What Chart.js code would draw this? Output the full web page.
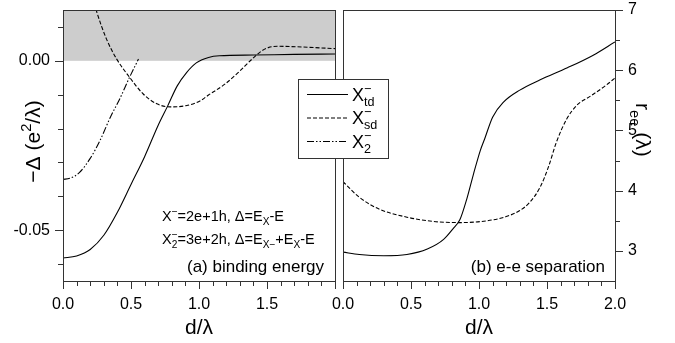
<!DOCTYPE html>
<html>
<head>
<meta charset="utf-8">
<script src="https://cdn.jsdelivr.net/npm/chart.js@4.4.1/dist/chart.umd.min.js"></script>
<style>
  html, body { margin: 0; padding: 0; background: #fff; }
  #wrap { position: relative; width: 675px; height: 343px; overflow: hidden; }
  canvas { position: absolute; top: 0; }
  #leftChart { left: 0; z-index: 2; }
  #rightChart { left: 320px; z-index: 1; }
</style>
</head>
<body>
<div id="wrap">
  <canvas id="rightChart" width="355" height="343"></canvas>
  <canvas id="leftChart" width="400" height="343"></canvas>
</div>
<script>
// ---- values ----
// (a) binding energy  -Delta (e^2/lambda) vs d/lambda
const tdBindD = [0, 0.1, 0.2, 0.3, 0.4, 0.5, 0.6, 0.7, 0.77, 0.84, 0.91, 0.98, 1.07, 1.15, 1.4, 1.7, 2.0];
const tdBindE = [-0.0582, -0.0576, -0.0557, -0.0515, -0.0447, -0.0365, -0.0283, -0.0190, -0.0133, -0.0074, -0.0034, -0.0006, 0.0010, 0.0015, 0.0017, 0.0019, 0.0020];
const sdBindD = [0.23, 0.25, 0.32, 0.395, 0.49, 0.59, 0.69, 0.79, 0.91, 1.01, 1.07, 1.19, 1.29, 1.39, 1.46, 1.51, 1.58, 1.68, 1.8, 2.0];
const sdBindE = [0.0170, 0.0142, 0.0064, 0.0005, -0.0049, -0.0098, -0.0127, -0.0136, -0.0132, -0.0118, -0.0101, -0.0069, -0.0034, 0.0005, 0.0029, 0.0039, 0.0043, 0.0042, 0.0040, 0.0036];
const x2BindD = [0, 0.05, 0.12, 0.2, 0.27, 0.35, 0.42, 0.49, 0.555];
const x2BindE = [-0.0350, -0.0347, -0.0330, -0.0288, -0.0237, -0.0165, -0.0110, -0.0048, 0.0005];
// (b) e-e separation  r_ee (lambda) vs d/lambda
const tdSepD = [0, 0.12, 0.3, 0.47, 0.62, 0.74, 0.81, 0.86, 0.91, 0.96, 1.01, 1.04, 1.1, 1.18, 1.3, 1.45, 1.65, 1.84, 2.0];
const tdSepR = [2.98, 2.94, 2.92, 2.94, 3.03, 3.19, 3.37, 3.52, 3.86, 4.28, 4.67, 4.85, 5.22, 5.47, 5.67, 5.84, 6.04, 6.25, 6.47];
const sdSepD = [0, 0.12, 0.27, 0.47, 0.66, 0.86, 1.06, 1.2, 1.3, 1.375, 1.45, 1.51, 1.57, 1.645, 1.72, 1.82, 1.94, 2.0];
const sdSepR = [4.15, 3.89, 3.69, 3.56, 3.49, 3.47, 3.50, 3.57, 3.67, 3.81, 4.06, 4.39, 4.81, 5.19, 5.42, 5.57, 5.76, 5.87];
// shaded (unbound) band of panel (a)
const unboundBand = [0, 0.015];

// ---- axes ----
const dRange = [0, 2];
const bindRange = [-0.065, 0.015];
const sepRange = [2.5, 7];
const dTicks = [0, 0.1, 0.2, 0.3, 0.4, 0.5, 0.6, 0.7, 0.8, 0.9, 1.0, 1.1, 1.2, 1.3, 1.4, 1.5, 1.6, 1.7, 1.8, 1.9, 2.0];
const dMajor = [0, 0.5, 1.0, 1.5, 2.0];
const dLabelsLeft = [0, 0.5, 1.0, 1.5];   // 2.0 sits under panel (b)
const dLabelsRight = [0, 0.5, 1.0, 1.5, 2.0];
const bindTicks = [-0.06, -0.05, -0.04, -0.03, -0.02, -0.01, 0, 0.01];
const bindLabels = [-0.05, 0];
const sepTicks = [3, 3.5, 4, 4.5, 5, 5.5, 6, 6.5, 7];
const sepLabels = [3, 4, 5, 6, 7];

const FONT = "'Liberation Sans', Arial, Helvetica, sans-serif";
const INK = "#000";
const AXIS = "#333";
const dashes = { td: [], sd: [4, 2], x2: [7, 2, 1.5, 2, 1.5, 2] };

Chart.defaults.font.family = FONT;
Chart.defaults.color = INK;

const pts = (xs, ys) => xs.map((x, i) => ({ x: x, y: ys[i] }));
const has = (arr, v) => arr.some(m => Math.abs(m - v) < 1e-9);

function line(label, data, dash) {
  return {
    label: label, data: data, borderColor: INK, borderWidth: 1.1, borderDash: dash,
    pointRadius: 0, fill: false, cubicInterpolationMode: "monotone"
  };
}

// text with sub/superscripts: strings, or {sub, sup}
function richWidth(ctx, parts, size) {
  let w = 0;
  parts.forEach(p => {
    if (typeof p === "string") { ctx.font = size + "px " + FONT; w += ctx.measureText(p).width; }
    else {
      ctx.font = (size * 0.7) + "px " + FONT;
      w += Math.max(p.sub ? ctx.measureText(p.sub).width : 0, p.sup ? ctx.measureText(p.sup).width : 0);
    }
  });
  return w;
}
function drawRich(ctx, parts, x, y, size, align) {
  const w = richWidth(ctx, parts, size);
  let cx = align === "right" ? x - w : align === "center" ? x - w / 2 : x;
  ctx.textAlign = "left";
  ctx.textBaseline = "alphabetic";
  ctx.fillStyle = INK;
  parts.forEach(p => {
    if (typeof p === "string") {
      ctx.font = size + "px " + FONT;
      ctx.fillText(p, cx, y);
      cx += ctx.measureText(p).width;
    } else {
      ctx.font = (size * 0.7) + "px " + FONT;
      let pw = 0;
      if (p.sup) { ctx.fillText(p.sup, cx, y - size * 0.42); pw = Math.max(pw, ctx.measureText(p.sup).width); }
      if (p.sub) { ctx.fillText(p.sub, cx, y + size * 0.28); pw = Math.max(pw, ctx.measureText(p.sub).width); }
      cx += pw;
    }
  });
}

// outward tick marks, long on labelled values
const tickMarks = {
  id: "tickMarks",
  afterDraw(chart, args, opts) {
    const ctx = chart.ctx;
    ctx.save();
    ctx.strokeStyle = AXIS;
    ctx.lineWidth = 1;
    Object.values(chart.scales).forEach(scale => {
      const majors = opts[scale.id] || [];
      scale.ticks.forEach(t => {
        const len = has(majors, t.value) ? 8 : 5;
        const p = Math.round(scale.getPixelForValue(t.value)) + 0.5;
        ctx.beginPath();
        if (scale.axis === "x") {
          ctx.moveTo(p, scale.top); ctx.lineTo(p, scale.top + len);
        } else if (scale.position === "left") {
          ctx.moveTo(scale.right, p); ctx.lineTo(scale.right - len, p);
        } else {
          ctx.moveTo(scale.left, p); ctx.lineTo(scale.left + len, p);
        }
        ctx.stroke();
      });
    });
    // frame
    const a = chart.chartArea;
    ctx.strokeRect(Math.round(a.left) + 0.5, Math.round(a.top) + 0.5,
      Math.round(a.right - a.left), Math.round(a.bottom - a.top));
    ctx.restore();
  }
};

const shadeBand = {
  id: "shadeBand",
  beforeDatasetsDraw(chart) {
    const y = chart.scales.y, a = chart.chartArea, ctx = chart.ctx;
    const y0 = y.getPixelForValue(unboundBand[0]);
    const y1 = y.getPixelForValue(unboundBand[1]);
    ctx.save();
    ctx.fillStyle = "#cdcdcd";
    ctx.fillRect(a.left, y1, a.right - a.left, y0 - y1);
    ctx.restore();
  }
};

const leftText = {
  id: "leftText",
  afterDraw(chart) {
    const ctx = chart.ctx, a = chart.chartArea;
    ctx.save();
    // axis titles
    drawRich(ctx, ["d/λ"], (a.left + a.right) / 2, 334, 21, "center");
    ctx.translate(40, (a.top + a.bottom) / 2 - 4);
    ctx.rotate(-Math.PI / 2);
    drawRich(ctx, ["−Δ (e", { sup: "2" }, "/λ)"], 0, 0, 21, "center");
    ctx.setTransform(1, 0, 0, 1, 0, 0);
    // notes
    drawRich(ctx, ["X", { sup: "−" }, "=2e+1h, Δ=E", { sub: "X" }, "-E"], 162, 221, 14.5, "left");
    drawRich(ctx, ["X", { sub: "2", sup: "−" }, "=3e+2h, Δ=E", { sub: "X−" }, "+E", { sub: "X" }, "-E"], 162, 244, 14.5, "left");
    drawRich(ctx, ["(a) binding energy"], a.right - 11, 272, 17, "right");
    // legend
    const bx = 298, by = 79, bw = 90, bh = 79;
    ctx.fillStyle = "#fff";
    ctx.fillRect(bx, by, bw, bh);
    ctx.strokeStyle = AXIS;
    ctx.lineWidth = 1;
    ctx.strokeRect(bx + 0.5, by + 0.5, bw, bh);
    const rows = [94, 117.5, 141];
    const names = [["X", { sup: "−", sub: "td" }], ["X", { sup: "−", sub: "sd" }], ["X", { sup: "−", sub: "2" }]];
    chart.data.datasets.forEach((ds, i) => {
      ctx.strokeStyle = INK;
      ctx.lineWidth = 1.1;
      ctx.setLineDash(ds.borderDash);
      ctx.beginPath();
      ctx.moveTo(307, rows[i] + 0.5);
      ctx.lineTo(348, rows[i] + 0.5);
      ctx.stroke();
      ctx.setLineDash([]);
      drawRich(ctx, names[i], 352, rows[i] + 6.5, 18, "left");
    });
    ctx.restore();
  }
};

const rightText = {
  id: "rightText",
  afterDraw(chart) {
    const ctx = chart.ctx, a = chart.chartArea;
    ctx.save();
    drawRich(ctx, ["d/λ"], (a.left + a.right) / 2, 334, 21, "center");
    drawRich(ctx, ["(b) e-e separation"], a.right - 10, 272, 17, "right");
    ctx.translate(a.right + 21, 103);
    ctx.rotate(Math.PI / 2);
    drawRich(ctx, ["r", { sub: "ee" }, " (λ)"], 0, 0, 21, "left");
    ctx.restore();
  }
};

// scales keep the sizes of the original frame; label overhang is not reserved
function fixSize(w, h) {
  return s => {
    if (w) s.width = w;
    if (h) s.height = h;
    s.paddingTop = 0; s.paddingBottom = 0; s.paddingLeft = 0; s.paddingRight = 0;
  };
}

function xAxis(labels) {
  return {
    type: "linear", min: dRange[0], max: dRange[1],
    afterBuildTicks: s => { s.ticks = dTicks.map(v => ({ value: v })); },
    afterFit: fixSize(0, 62),
    grid: { display: false, drawTicks: false },
    border: { display: false },
    ticks: {
      autoSkip: false, maxRotation: 0, minRotation: 0, padding: 14,
      font: { size: 16 }, color: INK,
      callback: v => has(labels, v) ? v.toFixed(1) : ""
    }
  };
}

new Chart(document.getElementById("leftChart"), {
  type: "line",
  data: {
    datasets: [
      line("X-td", pts(tdBindD, tdBindE), dashes.td),
      line("X-sd", pts(sdBindD, sdBindE), dashes.sd),
      line("X-2", pts(x2BindD, x2BindE), dashes.x2)
    ]
  },
  options: {
    responsive: false, animation: false, events: [],
    layout: { padding: { left: 0, right: 65, top: 10, bottom: 0 } },
    plugins: { legend: { display: false }, tooltip: { enabled: false }, tickMarks: { x: dMajor, y: bindLabels } },
    scales: {
      x: xAxis(dLabelsLeft),
      y: {
        type: "linear", position: "left", min: bindRange[0], max: bindRange[1],
        afterBuildTicks: s => { s.ticks = bindTicks.map(v => ({ value: v })); },
        afterFit: fixSize(63, 0),
        grid: { display: false, drawTicks: false },
        border: { display: false },
        ticks: {
          padding: 13, font: { size: 16 }, color: INK,
          callback: v => has(bindLabels, v) ? (Math.abs(v) < 1e-9 ? "0.00" : v.toFixed(2)) : ""
        }
      }
    }
  },
  plugins: [shadeBand, tickMarks, leftText]
});

new Chart(document.getElementById("rightChart"), {
  type: "line",
  data: {
    datasets: [
      line("X-td", pts(tdSepD, tdSepR), dashes.td),
      line("X-sd", pts(sdSepD, sdSepR), dashes.sd)
    ]
  },
  options: {
    responsive: false, animation: false, events: [],
    layout: { padding: { left: 23, right: 0, top: 10, bottom: 0 } },
    plugins: { legend: { display: false }, tooltip: { enabled: false }, tickMarks: { x: dMajor, y: sepLabels } },
    scales: {
      x: xAxis(dLabelsRight),
      y: {
        type: "linear", position: "right", min: sepRange[0], max: sepRange[1],
        afterBuildTicks: s => { s.ticks = sepTicks.map(v => ({ value: v })); },
        afterFit: fixSize(60, 0),
        grid: { display: false, drawTicks: false },
        border: { display: false },
        ticks: {
          padding: 13, font: { size: 16 }, color: INK,
          callback: v => has(sepLabels, v) ? String(v) : ""
        }
      }
    }
  },
  plugins: [tickMarks, rightText]
});
</script>
</body>
</html>
